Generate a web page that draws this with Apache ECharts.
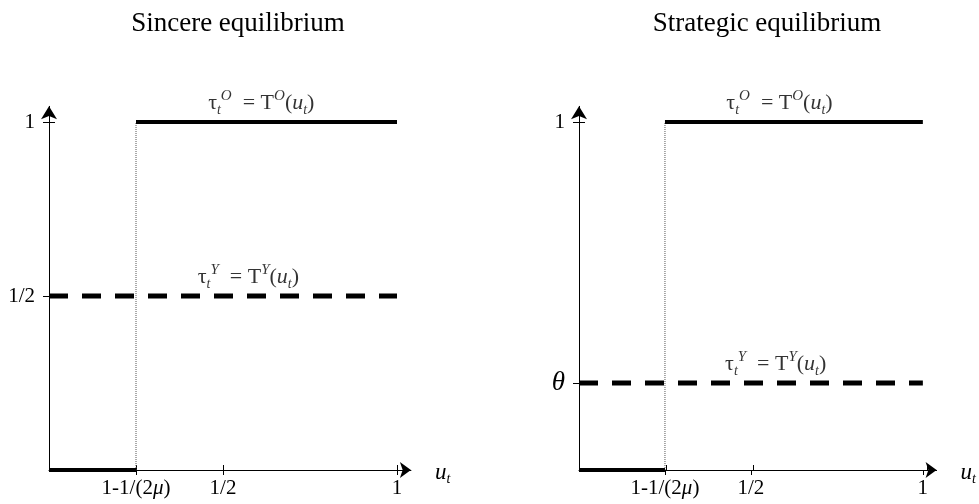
<!DOCTYPE html>
<html>
<head>
<meta charset="utf-8">
<script src="https://cdn.jsdelivr.net/npm/echarts@6/dist/echarts.min.js"></script>
<style>
  html, body { margin: 0; padding: 0; background: #fff; }
  #chart { width: 979px; height: 504px; }
</style>
</head>
<body>
<div id="chart"></div>
<script>
// Panel titles
const panelTitles = ['Sincere equilibrium', 'Strategic equilibrium'];

// Horizontal axis: u_t, with the switching threshold 1-1/(2mu)
const threshold = 0.25;
const xTickValues = [0.25, 0.5, 1];
const xTickLabels = ['{a|1-1/(2}{i|μ}{a|)}', '{a|1/2}', '{a|1}'];

// Vertical axis ticks for each panel
const sincereYTicks = [0.5, 1];
const sincereYLabels = ['{a|1/2}', '{a|1}'];
const strategicYTicks = [0.25, 1];
const strategicYLabels = ['{th|θ}', '{a|1}'];

// Tax rate preferred by the old: 0 below the threshold, 1 above it
const oldLow = [[0, 0], [0.25, 0]];
const oldHigh = [[0.25, 1], [1, 1]];
// Tax rate of the young: 1/2 (sincere) and theta (strategic)
const youngSincere = [[0, 0.5], [1, 0.5]];
const youngStrategic = [[0, 0.25], [1, 0.25]];
// Dotted guide at the threshold
const guide = [[0.25, 0], [0.25, 1]];

// Anchor points for the curve labels (data coordinates)
const oldLabelSincere = [[0.61, 1]];
const youngLabelSincere = [[0.573, 0.5]];
const oldLabelStrategic = [[0.583, 1]];
const youngLabelStrategic = [[0.572, 0.25]];

const FONT = 'Liberation Serif';
const X_MAX = 1.04;
const Y_MAX = 1.045;

const richLabel = {
  a: { fontFamily: FONT, fontSize: 21, color: '#000' },
  i: { fontFamily: FONT, fontSize: 21, fontStyle: 'italic', color: '#000' },
  th: { fontFamily: FONT, fontSize: 27, fontStyle: 'italic', color: '#000' }
};

const richFormula = {
  g: { fontFamily: FONT, fontSize: 22, color: '#000', lineHeight: 28 },
  gi: { fontFamily: FONT, fontSize: 22, fontStyle: 'italic', color: '#000', lineHeight: 28 },
  sub: { fontFamily: FONT, fontSize: 14, fontStyle: 'italic', color: '#000', lineHeight: 14, verticalAlign: 'bottom' },
  sup: { fontFamily: FONT, fontSize: 15, fontStyle: 'italic', color: '#000', lineHeight: 18, verticalAlign: 'top' }
};

const oldFormula = '{g|τ}{sub|t}{sup|O}{g|  = T}{sup|O}{g|(}{gi|u}{sub|t}{g|)}';
const youngFormula = '{g|τ}{sub|t}{sup|Y}{g|  = T}{sup|Y}{g|(}{gi|u}{sub|t}{g|)}';

const axisNameRich = {
  i: { fontFamily: FONT, fontSize: 23, fontStyle: 'italic', color: '#000', lineHeight: 26 },
  s: { fontFamily: FONT, fontSize: 14, fontStyle: 'italic', color: '#000', lineHeight: 12, verticalAlign: 'bottom' }
};

const grids = [
  { left: 49, top: 470 - 348 * Y_MAX, width: 348 * X_MAX, height: 348 * Y_MAX },
  { left: 579, top: 470 - 348 * Y_MAX, width: 348 * X_MAX, height: 348 * Y_MAX }
];

function mainX(gridIndex) {
  return {
    type: 'value', gridIndex: gridIndex, min: 0, max: X_MAX,
    name: '{i|u}{s|t}', nameLocation: 'end', nameGap: 24,
    nameTextStyle: { rich: axisNameRich, verticalAlign: 'middle', padding: [6, 0, 0, 0] },
    axisLine: { show: true, symbol: ['none', 'arrow'], symbolSize: [12, 11],
      lineStyle: { color: '#000', width: 1 } },
    axisTick: { show: true, inside: false, length: 5, customValues: xTickValues,
      lineStyle: { color: '#000', width: 1 } },
    axisLabel: { show: true, customValues: xTickValues, margin: 8,
      formatter: v => xTickLabels[xTickValues.indexOf(v)] || '', rich: richLabel },
    splitLine: { show: false }
  };
}
function innerX(gridIndex) {
  return {
    type: 'value', gridIndex: gridIndex, min: 0, max: X_MAX,
    axisLine: { show: false },
    axisTick: { show: true, inside: true, length: 5, customValues: xTickValues,
      lineStyle: { color: '#000', width: 1 } },
    axisLabel: { show: false }, splitLine: { show: false }
  };
}
function mainY(gridIndex, ticks, labels) {
  return {
    type: 'value', gridIndex: gridIndex, min: 0, max: Y_MAX,
    axisLine: { show: true, symbol: ['none', 'arrow'], symbolSize: [12, 13],
      lineStyle: { color: '#000', width: 1 } },
    axisTick: { show: true, inside: false, length: 6, customValues: ticks,
      lineStyle: { color: '#000', width: 1 } },
    axisLabel: { show: true, customValues: ticks, margin: 14,
      formatter: v => labels[ticks.indexOf(v)] || '', rich: richLabel },
    splitLine: { show: false }
  };
}
function innerY(gridIndex, ticks) {
  return {
    type: 'value', gridIndex: gridIndex, min: 0, max: Y_MAX,
    axisLine: { show: false },
    axisTick: { show: true, inside: true, length: 6, customValues: ticks,
      lineStyle: { color: '#000', width: 1 } },
    axisLabel: { show: false }, splitLine: { show: false }
  };
}

function segment(data, axis, style) {
  return {
    type: 'line', xAxisIndex: axis, yAxisIndex: axis, data: data,
    symbol: 'none', silent: true, animation: false, lineStyle: style, z: 3
  };
}
function formulaLabel(data, axis, text, dist) {
  return {
    type: 'scatter', xAxisIndex: axis, yAxisIndex: axis, data: data,
    symbolSize: 0, silent: true, animation: false, z: 5,
    label: { show: true, position: 'top', distance: dist, formatter: text, rich: richFormula }
  };
}

const thick = { color: '#000', width: 4 };
const dashed = { color: '#000', width: 5, type: [19, 14] };
const dotted = { color: '#555', width: 1, type: [1, 1] };

const titleStyle = { fontFamily: FONT, fontSize: 27, fontWeight: 'normal', color: '#000' };

const option = {
  backgroundColor: '#fff',
  animation: false,
  title: [
    { text: panelTitles[0], left: 233, top: 5, textAlign: 'center', textStyle: titleStyle },
    { text: panelTitles[1], left: 762, top: 5, textAlign: 'center', textStyle: titleStyle }
  ],
  grid: [grids[0], grids[0], grids[1], grids[1]],
  xAxis: [mainX(0), innerX(1), mainX(2), innerX(3)],
  yAxis: [
    mainY(0, sincereYTicks, sincereYLabels), innerY(1, sincereYTicks),
    mainY(2, strategicYTicks, strategicYLabels), innerY(3, strategicYTicks)
  ],
  series: [
    segment(guide, 0, dotted),
    segment(oldLow, 0, thick),
    segment(oldHigh, 0, thick),
    segment(youngSincere, 0, dashed),
    formulaLabel(oldLabelSincere, 0, oldFormula, 5),
    formulaLabel(youngLabelSincere, 0, youngFormula, 5),

    segment(guide, 2, dotted),
    segment(oldLow, 2, thick),
    segment(oldHigh, 2, thick),
    segment(youngStrategic, 2, dashed),
    formulaLabel(oldLabelStrategic, 2, oldFormula, 5),
    formulaLabel(youngLabelStrategic, 2, youngFormula, 5)
  ]
};

const chart = echarts.init(document.getElementById('chart'), null, { renderer: 'canvas' });
chart.setOption(option);
</script>
</body>
</html>
